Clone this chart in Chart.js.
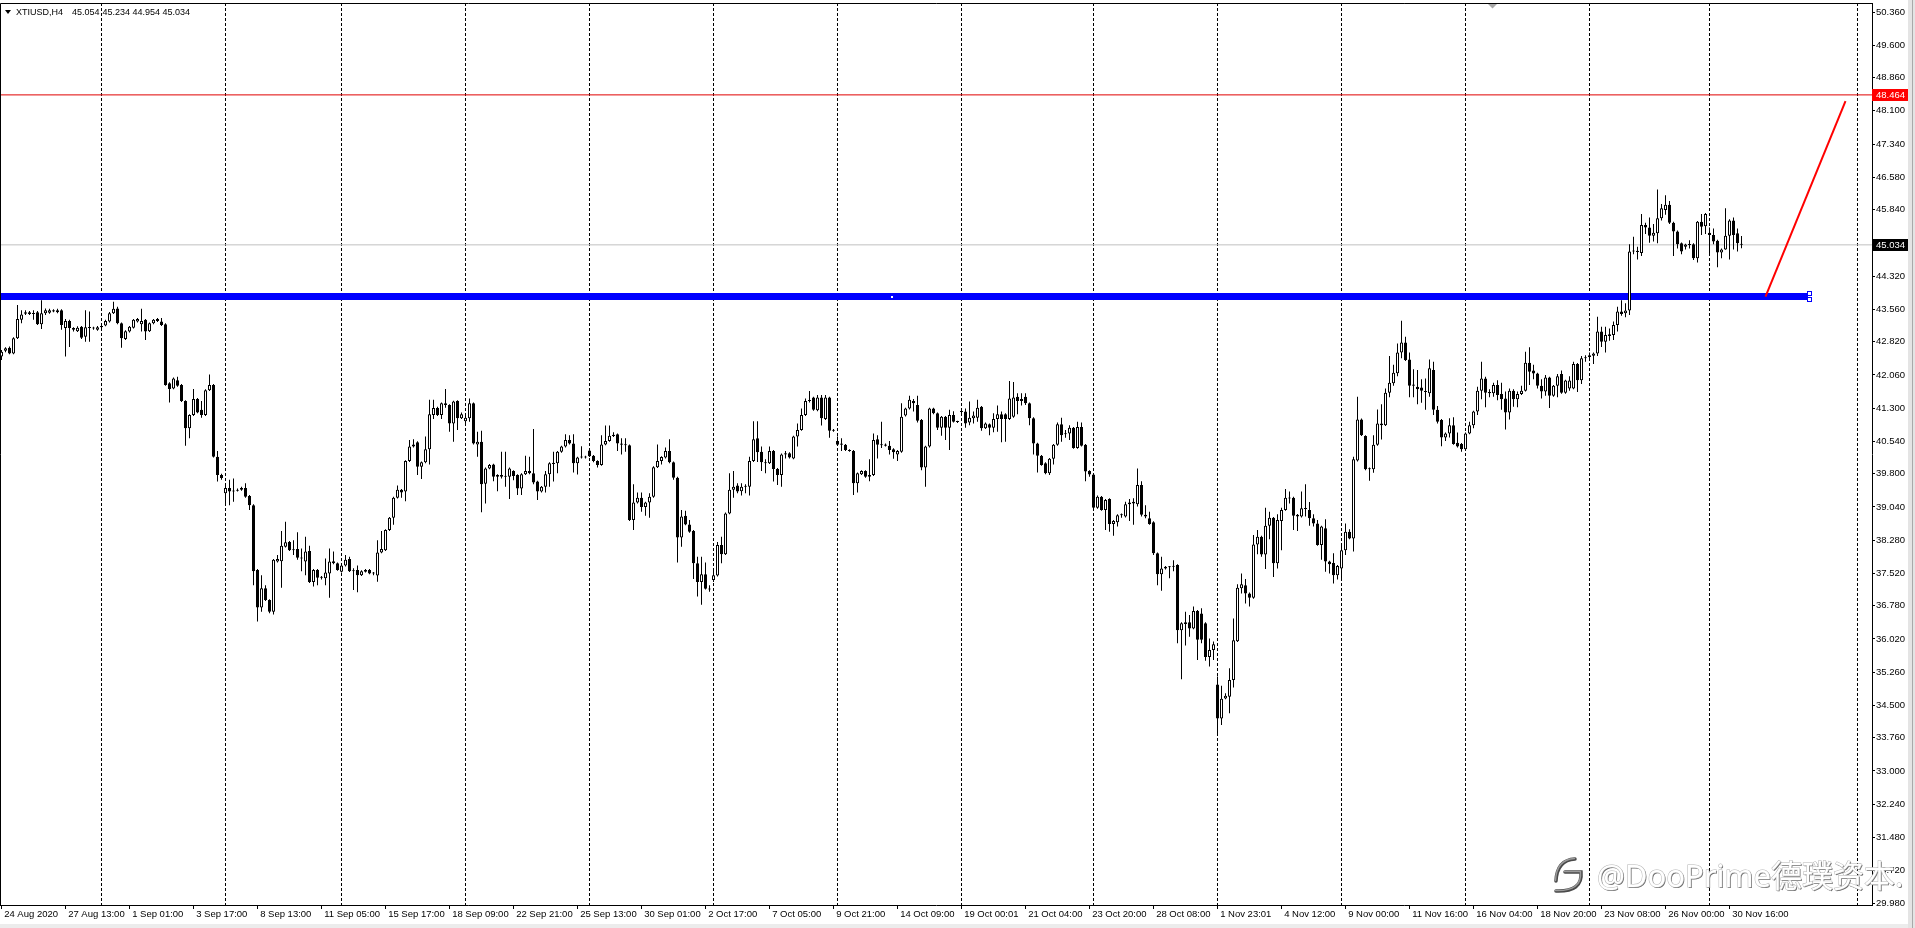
<!DOCTYPE html>
<html>
<head>
<meta charset="utf-8">
<title>XTIUSD,H4</title>
<script src="https://cdn.jsdelivr.net/npm/chart.js@4.4.1/dist/chart.umd.min.js"></script>
<style>
  html, body { margin: 0; padding: 0; background: #ffffff; overflow: hidden; }
  #wrap { position: relative; width: 1915px; height: 928px; }
</style>
</head>
<body>
<div id="wrap"><canvas id="chart"></canvas></div>
<script>
const symbolName = 'XTIUSD,H4';

const opens = [
  42.48, 42.61, 42.68, 42.55, 42.90, 43.32, 43.46, 43.49, 43.45, 43.49,
  43.22, 43.47, 43.48, 43.54, 43.49, 43.54, 43.13, 43.29, 43.13, 43.06,
  43.16, 42.93, 43.15, 43.13, 43.09, 43.15, 43.19, 43.28, 43.47, 43.58,
  43.24, 42.88, 43.05, 43.14, 43.28, 43.22, 43.32, 43.06, 43.24, 43.29,
  43.28, 43.22, 41.87, 41.75, 41.94, 41.83, 41.46, 40.84, 41.14, 41.51,
  41.26, 41.14, 41.71, 41.83, 40.19, 39.77, 39.35, 39.47, 39.39, 39.41,
  39.43, 39.47, 39.29, 39.08, 37.60, 36.74, 37.18, 36.91, 36.64, 37.79,
  37.80, 38.13, 38.24, 38.05, 38.08, 37.88, 37.79, 38.03, 37.32, 37.60,
  37.42, 37.41, 37.52, 37.75, 37.75, 37.56, 37.70, 37.85, 37.57, 37.60,
  37.48, 37.56, 37.60, 37.52, 37.47, 38.00, 38.05, 38.51, 38.79, 39.25,
  39.43, 39.39, 40.09, 40.42, 40.52, 39.96, 40.06, 40.36, 41.14, 41.30,
  41.14, 41.41, 41.37, 40.95, 41.46, 41.07, 41.00, 41.07, 41.41, 40.47,
  40.53, 39.57, 39.92, 40.01, 39.73, 39.77, 39.73, 39.73, 39.86, 39.77,
  39.46, 39.79, 39.86, 39.81, 39.62, 39.39, 39.50, 39.79, 40.02, 40.04,
  40.30, 40.42, 40.57, 40.49, 40.04, 40.17, 40.19, 40.33, 40.21, 40.09,
  40.00, 40.47, 40.55, 40.66, 40.70, 40.49, 40.46, 40.45, 38.74, 39.14,
  39.25, 39.04, 39.14, 39.27, 39.95, 40.09, 40.17, 40.32, 40.06, 39.71,
  38.34, 38.84, 38.64, 38.49, 37.75, 37.32, 37.50, 37.17, 37.37, 37.47,
  38.17, 37.96, 38.89, 39.43, 39.53, 39.40, 39.50, 39.50, 40.09, 40.61,
  40.30, 40.06, 40.04, 40.32, 39.91, 39.77, 40.24, 40.27, 40.15, 40.65,
  40.80, 41.14, 41.46, 41.54, 41.25, 41.54, 41.05, 41.54, 40.78, 40.55,
  40.46, 40.46, 40.34, 40.32, 39.58, 39.79, 39.86, 39.73, 39.77, 40.59,
  40.45, 40.47, 40.44, 40.36, 40.24, 40.30, 41.13, 41.29, 41.46, 41.37,
  41.03, 39.94, 40.42, 41.29, 41.18, 40.85, 41.10, 40.85, 41.14, 40.99,
  41.21, 41.22, 40.97, 41.07, 41.08, 41.33, 40.84, 40.93, 40.85, 41.05,
  41.16, 41.16, 41.05, 41.10, 41.56, 41.46, 41.56, 41.41, 41.07, 40.49,
  40.21, 40.04, 39.81, 40.14, 40.46, 40.93, 40.70, 40.72, 40.85, 40.39,
  40.87, 40.46, 39.86, 39.78, 39.02, 39.27, 38.97, 39.22, 38.65, 38.69,
  38.85, 38.82, 39.10, 39.12, 39.10, 39.54, 38.86, 38.78, 38.69, 37.98,
  37.50, 37.63, 37.67, 37.67, 37.71, 36.22, 36.36, 36.40, 36.26, 36.66,
  36.60, 36.38, 35.61, 35.77, 34.98, 34.20, 34.66, 34.70, 35.08, 35.97,
  37.18, 37.25, 37.06, 36.96, 38.18, 38.36, 37.95, 38.61, 38.79, 37.75,
  38.72, 38.97, 39.25, 39.25, 38.82, 38.82, 39.01, 38.97, 38.78, 38.66,
  38.17, 38.55, 37.79, 37.76, 37.48, 37.63, 38.05, 38.47, 38.32, 40.10,
  41.04, 40.66, 39.90, 39.90, 40.46, 40.95, 40.91, 41.65, 41.87, 42.10,
  42.57, 42.80, 42.41, 41.81, 41.79, 41.77, 41.68, 41.64, 42.17, 41.26,
  41.03, 40.63, 40.72, 40.91, 40.51, 40.48, 40.36, 40.72, 40.91, 41.22,
  41.70, 41.98, 41.67, 41.64, 41.83, 41.62, 41.52, 41.20, 41.70, 41.50,
  41.62, 41.70, 42.34, 42.16, 42.09, 41.81, 41.68, 42.00, 41.58, 41.81,
  42.08, 41.65, 41.75, 41.75, 42.31, 41.94, 42.44, 42.47, 42.50, 42.55,
  43.05, 42.82, 42.95, 42.97, 43.20, 43.51, 43.47, 43.53, 44.88, 44.90,
  44.85, 45.49, 45.43, 45.24, 45.30, 45.64, 45.83, 45.95, 45.54, 45.34,
  45.07, 44.99, 45.03, 45.05, 44.73, 45.56, 45.46, 45.31, 45.26, 45.13,
  44.86, 44.93, 45.24, 45.59, 45.30, 45.054
];

const highs = [
  42.63, 42.69, 42.71, 42.92, 43.66, 43.54, 43.54, 43.52, 43.54, 43.52,
  43.77, 43.58, 43.57, 43.56, 43.57, 43.56, 43.34, 43.32, 43.15, 43.17,
  43.18, 43.54, 43.51, 43.16, 43.18, 43.20, 43.32, 43.50, 43.73, 43.62,
  43.26, 43.08, 43.18, 43.34, 43.36, 43.57, 43.34, 43.26, 43.34, 43.36,
  43.36, 43.24, 41.89, 42.00, 42.02, 41.85, 41.48, 41.16, 41.74, 41.53,
  41.46, 41.73, 42.07, 41.85, 40.32, 39.80, 39.58, 39.66, 39.69, 39.46,
  39.50, 39.58, 39.31, 39.10, 37.62, 37.48, 37.25, 36.93, 37.85, 37.94,
  38.49, 38.70, 38.26, 38.28, 38.46, 38.09, 38.36, 38.15, 37.62, 37.62,
  37.46, 37.86, 38.09, 38.02, 37.77, 37.72, 37.94, 37.90, 37.64, 37.70,
  37.59, 37.62, 37.62, 37.55, 38.28, 38.49, 38.53, 38.81, 39.27, 39.53,
  39.45, 40.11, 40.57, 40.59, 40.54, 40.08, 40.65, 41.49, 41.49, 41.33,
  41.43, 41.74, 41.39, 41.47, 41.48, 41.20, 41.13, 41.52, 41.43, 40.76,
  40.78, 39.94, 40.02, 40.03, 39.79, 40.30, 40.30, 39.94, 39.88, 39.79,
  39.81, 40.21, 40.19, 40.82, 39.64, 39.52, 39.86, 40.06, 40.30, 40.32,
  40.44, 40.70, 40.68, 40.70, 40.19, 40.43, 40.21, 40.38, 40.23, 40.11,
  40.68, 40.90, 40.90, 40.75, 40.72, 40.61, 40.61, 40.47, 39.56, 39.37,
  39.37, 39.16, 39.35, 39.97, 40.47, 40.20, 40.40, 40.59, 40.08, 39.73,
  38.97, 38.95, 38.74, 38.51, 37.90, 37.90, 37.77, 37.25, 37.60, 38.24,
  38.36, 38.91, 39.81, 39.86, 39.58, 39.58, 39.56, 40.19, 41.00, 41.00,
  40.42, 40.13, 40.42, 40.34, 39.93, 40.26, 40.32, 40.29, 40.67, 40.95,
  41.29, 41.52, 41.69, 41.56, 41.60, 41.60, 41.60, 41.56, 40.82, 40.65,
  40.61, 40.48, 40.36, 40.34, 39.83, 39.88, 39.88, 40.13, 40.72, 40.68,
  40.99, 40.49, 40.55, 40.38, 40.34, 41.41, 41.31, 41.58, 41.51, 41.58,
  41.05, 40.44, 41.31, 41.31, 41.20, 41.12, 41.12, 41.26, 41.23, 41.01,
  41.29, 41.29, 41.45, 41.22, 41.49, 41.35, 40.97, 40.95, 41.18, 41.36,
  41.22, 41.18, 41.92, 41.90, 41.64, 41.64, 41.64, 41.43, 41.09, 40.51,
  40.23, 40.06, 40.16, 40.48, 40.97, 41.08, 40.80, 40.91, 40.87, 40.99,
  40.97, 40.48, 39.88, 39.80, 39.30, 39.29, 39.22, 39.24, 38.74, 38.87,
  38.89, 39.16, 39.22, 39.24, 39.92, 39.63, 39.08, 38.93, 38.71, 38.00,
  37.90, 37.69, 37.69, 37.82, 37.73, 36.40, 36.64, 36.57, 36.76, 36.68,
  36.72, 36.40, 36.03, 35.96, 35.16, 34.95, 34.78, 35.35, 36.49, 37.27,
  37.52, 37.39, 37.08, 38.40, 38.51, 38.38, 39.02, 38.93, 38.81, 38.87,
  39.02, 39.45, 39.39, 39.27, 38.88, 39.39, 39.56, 39.15, 38.87, 38.74,
  38.61, 38.76, 37.81, 37.98, 37.71, 38.19, 38.66, 38.53, 40.19, 41.56,
  41.06, 40.68, 39.94, 40.68, 41.27, 41.39, 41.75, 42.49, 42.29, 42.78,
  43.30, 42.93, 42.57, 42.19, 42.17, 41.96, 41.98, 42.41, 42.36, 41.35,
  41.05, 40.74, 41.07, 41.09, 40.74, 40.50, 40.74, 40.99, 41.24, 41.79,
  42.36, 42.02, 41.73, 41.88, 41.94, 41.88, 41.68, 41.75, 41.73, 41.68,
  41.81, 42.59, 42.69, 42.29, 42.11, 41.96, 42.06, 42.02, 41.83, 42.08,
  42.16, 41.95, 42.03, 42.36, 42.33, 42.49, 42.51, 42.57, 42.57, 43.39,
  43.16, 43.16, 43.12, 43.28, 43.62, 43.77, 43.70, 45.05, 45.22, 44.99,
  45.74, 45.54, 45.66, 45.51, 46.30, 45.97, 46.17, 46.04, 45.56, 45.36,
  45.09, 45.06, 45.14, 45.07, 45.58, 45.74, 45.76, 45.43, 45.41, 45.15,
  44.95, 45.87, 45.62, 45.66, 45.41, 45.234
];

const lows = [
  42.40, 42.58, 42.53, 42.53, 42.88, 43.24, 43.43, 43.43, 43.32, 43.20,
  43.11, 43.43, 43.46, 43.49, 43.47, 43.09, 42.48, 42.70, 43.05, 43.04,
  42.88, 42.82, 42.82, 43.09, 43.07, 43.13, 43.17, 43.26, 43.45, 43.22,
  42.68, 42.86, 43.03, 43.12, 43.26, 43.05, 42.86, 43.04, 43.22, 43.27,
  43.18, 41.81, 41.43, 41.73, 41.79, 41.44, 40.44, 40.61, 41.12, 41.18,
  41.08, 41.12, 41.69, 40.17, 39.62, 39.66, 39.08, 39.08, 39.16, 39.39,
  39.41, 39.25, 38.97, 37.25, 36.42, 36.64, 36.89, 36.61, 36.58, 37.77,
  37.19, 38.11, 38.03, 37.94, 37.83, 37.57, 37.48, 37.30, 37.22, 37.25,
  37.38, 37.25, 36.96, 37.73, 37.58, 37.54, 37.68, 37.55, 37.14, 37.09,
  37.46, 37.54, 37.50, 37.48, 37.33, 37.98, 38.03, 38.49, 38.63, 39.23,
  39.25, 39.17, 40.07, 40.40, 39.77, 39.68, 40.04, 40.01, 41.05, 41.12,
  41.05, 41.31, 40.76, 40.53, 40.80, 41.05, 40.95, 40.99, 40.47, 40.19,
  38.92, 39.12, 39.90, 39.63, 39.40, 39.69, 39.50, 39.22, 39.65, 39.31,
  39.31, 39.77, 39.79, 39.56, 39.20, 39.37, 39.37, 39.50, 39.62, 39.81,
  40.28, 40.40, 40.47, 39.83, 39.78, 40.15, 40.15, 40.18, 40.06, 39.94,
  39.98, 40.45, 40.53, 40.64, 40.32, 40.24, 40.30, 38.72, 38.51, 39.12,
  38.93, 38.84, 38.79, 39.25, 39.93, 40.01, 40.15, 40.04, 39.66, 37.77,
  38.13, 38.62, 38.45, 37.39, 36.99, 36.80, 37.15, 37.10, 37.32, 37.45,
  37.75, 37.94, 38.87, 39.25, 39.35, 39.30, 39.35, 39.30, 40.07, 40.07,
  39.86, 39.81, 40.02, 39.62, 39.54, 39.50, 40.15, 40.15, 40.13, 40.42,
  40.78, 41.12, 41.43, 41.24, 41.23, 40.90, 41.03, 40.62, 40.76, 40.44,
  40.32, 40.32, 40.30, 39.31, 39.37, 39.77, 39.71, 39.63, 39.75, 40.15,
  40.39, 40.42, 40.24, 40.14, 40.09, 40.28, 41.11, 41.27, 41.22, 40.97,
  39.88, 39.50, 40.40, 41.16, 40.80, 40.67, 40.57, 40.34, 40.97, 40.96,
  41.16, 40.85, 40.91, 40.95, 40.99, 40.78, 40.82, 40.68, 40.75, 40.76,
  40.52, 40.53, 41.03, 41.08, 41.16, 41.36, 41.37, 40.91, 40.24, 39.83,
  39.98, 39.79, 39.77, 40.01, 40.44, 40.53, 40.62, 40.57, 40.37, 40.37,
  40.42, 39.63, 39.73, 39.00, 39.00, 38.95, 38.51, 38.47, 38.38, 38.59,
  38.79, 38.80, 38.72, 38.63, 39.05, 38.82, 38.78, 38.63, 37.94, 37.25,
  37.12, 37.61, 37.41, 37.57, 35.92, 35.10, 35.87, 36.07, 36.24, 35.54,
  35.92, 35.52, 35.39, 35.54, 33.82, 34.05, 34.64, 34.32, 34.91, 35.95,
  37.06, 36.83, 36.76, 36.94, 37.96, 37.90, 37.62, 38.30, 37.44, 37.63,
  38.05, 38.95, 39.12, 38.51, 38.49, 38.80, 38.82, 38.61, 38.59, 38.15,
  37.83, 37.56, 37.52, 37.29, 37.38, 37.41, 37.94, 38.30, 38.02, 40.08,
  40.66, 39.88, 39.64, 39.82, 40.44, 40.58, 40.89, 41.55, 41.81, 42.03,
  42.44, 42.38, 41.55, 41.55, 41.39, 41.42, 41.26, 41.56, 41.14, 40.95,
  40.43, 40.55, 40.63, 40.46, 40.40, 40.30, 40.33, 40.70, 40.84, 41.14,
  41.50, 41.32, 41.55, 41.56, 41.48, 41.26, 40.81, 41.04, 41.33, 41.32,
  41.60, 41.68, 41.83, 41.96, 41.75, 41.52, 41.58, 41.30, 41.56, 41.55,
  41.63, 41.63, 41.70, 41.73, 41.67, 41.85, 42.36, 42.44, 42.31, 42.49,
  42.70, 42.57, 42.84, 42.86, 43.05, 43.41, 43.38, 43.43, 44.82, 44.70,
  44.78, 45.28, 45.08, 45.11, 45.07, 45.59, 45.72, 45.51, 44.78, 44.95,
  44.82, 44.93, 44.95, 44.69, 44.63, 45.26, 45.28, 44.85, 45.05, 44.52,
  44.73, 44.92, 44.70, 44.93, 44.88, 44.954
];

const closes = [
  42.59, 42.67, 42.55, 42.90, 43.34, 43.44, 43.49, 43.45, 43.47, 43.22,
  43.47, 43.54, 43.54, 43.51, 43.54, 43.20, 43.29, 43.13, 43.09, 43.14,
  42.91, 43.15, 43.13, 43.12, 43.15, 43.18, 43.29, 43.47, 43.57, 43.24,
  42.90, 43.06, 43.16, 43.32, 43.34, 43.29, 43.05, 43.24, 43.32, 43.34,
  43.20, 41.83, 41.74, 41.98, 41.81, 41.46, 40.84, 41.14, 41.51, 41.20,
  41.14, 41.71, 41.83, 40.19, 39.77, 39.70, 39.47, 39.39, 39.41, 39.43,
  39.47, 39.27, 39.08, 37.57, 36.74, 37.18, 36.91, 36.64, 37.83, 37.85,
  38.15, 38.23, 38.05, 38.07, 37.88, 37.86, 38.02, 37.32, 37.60, 37.42,
  37.44, 37.54, 37.79, 37.80, 37.60, 37.70, 37.83, 37.57, 37.59, 37.48,
  37.57, 37.60, 37.52, 37.53, 38.00, 38.08, 38.51, 38.79, 39.25, 39.43,
  39.37, 40.09, 40.42, 40.47, 39.96, 40.06, 40.36, 41.16, 41.30, 41.14,
  41.41, 41.37, 40.95, 41.45, 41.07, 41.16, 41.08, 41.41, 40.49, 40.53,
  39.56, 39.92, 40.00, 39.73, 39.77, 39.73, 39.75, 39.92, 39.75, 39.46,
  39.79, 39.86, 39.81, 39.60, 39.39, 39.50, 39.79, 40.04, 40.05, 40.30,
  40.42, 40.57, 40.49, 40.04, 40.17, 40.19, 40.17, 40.20, 40.09, 40.00,
  40.47, 40.55, 40.67, 40.69, 40.49, 40.46, 40.45, 38.74, 39.14, 39.25,
  39.04, 39.14, 39.27, 39.95, 40.09, 40.18, 40.32, 40.06, 39.71, 38.34,
  38.82, 38.64, 38.47, 37.75, 37.32, 37.50, 37.17, 37.15, 37.48, 38.17,
  37.96, 38.89, 39.43, 39.50, 39.39, 39.50, 39.52, 40.09, 40.59, 40.29,
  40.06, 40.04, 40.32, 39.91, 39.77, 40.24, 40.27, 40.17, 40.65, 40.80,
  41.14, 41.46, 41.48, 41.26, 41.54, 41.07, 41.54, 40.78, 40.80, 40.46,
  40.49, 40.34, 40.32, 39.58, 39.81, 39.86, 39.73, 39.77, 40.57, 40.46,
  40.47, 40.44, 40.34, 40.29, 40.32, 41.10, 41.29, 41.49, 41.41, 41.01,
  39.94, 40.42, 41.29, 41.18, 40.85, 41.10, 40.85, 41.14, 40.99, 40.98,
  41.23, 40.95, 41.08, 41.13, 41.31, 40.84, 40.95, 40.85, 41.05, 41.16,
  41.05, 41.05, 41.52, 41.54, 41.46, 41.51, 41.41, 41.07, 40.49, 40.21,
  40.00, 39.81, 40.14, 40.46, 40.93, 40.68, 40.72, 40.85, 40.39, 40.87,
  40.44, 39.85, 39.78, 39.02, 39.27, 38.97, 39.20, 38.65, 38.72, 38.85,
  38.87, 39.10, 39.14, 39.16, 39.54, 38.86, 38.82, 38.65, 37.98, 37.50,
  37.63, 37.67, 37.66, 37.69, 36.22, 36.38, 36.40, 36.26, 36.66, 36.00,
  36.00, 35.61, 35.77, 35.90, 34.20, 34.65, 34.72, 35.08, 35.99, 37.19,
  37.27, 37.06, 36.96, 38.18, 38.36, 37.95, 38.61, 38.79, 37.75, 38.74,
  38.97, 39.25, 39.23, 38.84, 38.86, 39.01, 38.99, 38.78, 38.66, 38.17,
  38.59, 37.79, 37.73, 37.48, 37.69, 38.05, 38.47, 38.32, 40.13, 41.04,
  40.68, 39.90, 39.92, 40.46, 40.95, 40.91, 41.65, 41.88, 42.11, 42.57,
  42.80, 42.40, 41.81, 41.84, 41.73, 41.70, 41.67, 42.21, 41.26, 40.99,
  40.63, 40.72, 40.91, 40.48, 40.42, 40.36, 40.72, 40.91, 41.22, 41.70,
  41.98, 41.65, 41.64, 41.83, 41.60, 41.50, 41.20, 41.70, 41.50, 41.62,
  41.70, 42.34, 42.13, 42.09, 41.81, 41.68, 42.00, 41.58, 41.81, 42.03,
  41.65, 41.93, 41.93, 42.31, 41.94, 42.44, 42.46, 42.51, 42.55, 43.05,
  42.82, 42.97, 42.99, 43.20, 43.51, 43.45, 43.53, 44.88, 44.90, 44.87,
  45.49, 45.43, 45.24, 45.31, 45.64, 45.87, 45.95, 45.54, 45.34, 45.05,
  44.88, 45.04, 45.04, 44.73, 45.56, 45.45, 45.74, 45.26, 45.11, 44.86,
  44.93, 45.24, 45.59, 45.26, 45.07, 45.034
];

// one label every 16 bars, starting at bar 0
const timeLabels = [
  '24 Aug 2020', '27 Aug 13:00', '1 Sep 01:00', '3 Sep 17:00', '8 Sep 13:00',
  '11 Sep 05:00', '15 Sep 17:00', '18 Sep 09:00', '22 Sep 21:00', '25 Sep 13:00',
  '30 Sep 01:00', '2 Oct 17:00', '7 Oct 05:00', '9 Oct 21:00', '14 Oct 09:00',
  '19 Oct 00:01', '21 Oct 04:00', '23 Oct 20:00', '28 Oct 08:00', '1 Nov 23:01',
  '4 Nov 12:00', '9 Nov 00:00', '11 Nov 16:00', '16 Nov 04:00', '18 Nov 20:00',
  '23 Nov 08:00', '26 Nov 00:00', '30 Nov 16:00'
];
const labelStep = 16;

// bars where a new week starts (dashed separators)
const weekStarts = [25, 56, 85, 116, 147, 178, 209, 240, 273, 304, 335, 366, 397, 427, 464];

const priceTicks = [
  50.36, 49.60, 48.86, 48.10, 47.34, 46.58, 45.84, 45.08, 44.32, 43.56,
  42.82, 42.06, 41.30, 40.54, 39.80, 39.04, 38.28, 37.52, 36.78, 36.02,
  35.26, 34.50, 33.76, 33.00, 32.24, 31.48, 30.72, 29.98
];

const resistanceLevel = 48.464;
const supportZone = [43.77, 43.93];
const supportZoneBars = [-7, 451.6];
const trendBars = [441, 461];
const trendPrices = [43.85, 48.32];

const xMin = -0.375;
const xMax = 467.625;
const yMin = 29.935;
const yMax = 50.566;

const fontFamily = '"Liberation Sans", Arial, sans-serif';
const lastBar = closes.length - 1;
const bidPrice = closes[lastBar];

const bodies = opens.map(function (o, i) { return {x: i, y: [o, closes[i]]}; });
const wicks = lows.map(function (l, i) { return {x: i, y: [l, highs[i]]}; });

const xTickValues = Array.from(new Set(
  timeLabels.map(function (_, k) { return k * labelStep; }).concat(weekStarts)
)).sort(function (a, b) { return a - b; });

function priceBox(ctx, area, yScale, value, bg) {
  const py = Math.round(yScale.getPixelForValue(value));
  ctx.fillStyle = bg;
  ctx.fillRect(area.right, py - 6, 36, 12);
  ctx.fillStyle = '#ffffff';
  ctx.font = '9.5px ' + fontFamily;
  ctx.textBaseline = 'middle';
  ctx.textAlign = 'left';
  ctx.fillText(value.toFixed(3), area.right + 4, py + 0.5);
}

function drawLogo(ctx, color, dx, dy) {
  ctx.strokeStyle = color;
  ctx.beginPath();
  ctx.moveTo(1575 + dx, 859 + dy);
  ctx.quadraticCurveTo(1557 + dx, 860 + dy, 1556 + dx, 881 + dy);
  ctx.stroke();
  ctx.beginPath();
  ctx.moveTo(1565 + dx, 872 + dy);
  ctx.lineTo(1581 + dx, 872 + dy);
  ctx.quadraticCurveTo(1583 + dx, 892 + dy, 1556 + dx, 891 + dy);
  ctx.stroke();
}

const overlay = {
  id: 'overlay',
  beforeDatasetsDraw(chart) {
    const {ctx, chartArea, scales: {x, y}} = chart;
    ctx.save();
    ctx.beginPath();
    ctx.rect(chartArea.left, chartArea.top, chartArea.width, chartArea.height);
    ctx.clip();
    const zl = x.getPixelForValue(supportZoneBars[0]);
    const zr = Math.round(x.getPixelForValue(supportZoneBars[1]));
    const zt = Math.round(y.getPixelForValue(supportZone[1]));
    const zb = Math.round(y.getPixelForValue(supportZone[0]));
    ctx.fillStyle = '#0000ff';
    ctx.fillRect(zl, zt, zr - zl, zb - zt);
    ctx.restore();
  },
  afterDatasetsDraw(chart) {
    const {ctx, scales: {x, y}} = chart;
    const zr = Math.round(x.getPixelForValue(supportZoneBars[1]));
    const zt = Math.round(y.getPixelForValue(supportZone[1]));
    const zb = Math.round(y.getPixelForValue(supportZone[0]));
    const mid = Math.round(x.getPixelForValue((supportZoneBars[0] + supportZoneBars[1]) / 2));
    ctx.save();
    ctx.fillStyle = '#ffffff';
    ctx.fillRect(mid, Math.round((zt + zb) / 2) - 1, 2, 2);
    ctx.strokeStyle = '#0000ff';
    ctx.lineWidth = 1;
    ctx.fillRect(zr - 1, zt - 2, 4, 4);
    ctx.strokeRect(zr - 0.5, zt - 1.5, 4, 4);
    ctx.fillRect(zr - 1, zb - 3, 4, 4);
    ctx.strokeRect(zr - 0.5, zb - 2.5, 4, 4);
    ctx.restore();
  },
  afterDraw(chart) {
    const {ctx, chartArea, scales: {y}} = chart;
    ctx.save();
    // frame on the two sides Chart.js leaves open
    ctx.strokeStyle = '#000000';
    ctx.lineWidth = 1;
    ctx.beginPath();
    ctx.moveTo(0.5, chartArea.bottom);
    ctx.lineTo(0.5, chartArea.top + 0.5);
    ctx.lineTo(chartArea.right, chartArea.top + 0.5);
    ctx.stroke();

    priceBox(ctx, chartArea, y, resistanceLevel, '#ff0000');
    priceBox(ctx, chartArea, y, bidPrice, '#000000');

    // chart shift marker
    ctx.fillStyle = '#a8a8a8';
    ctx.beginPath();
    ctx.moveTo(1488, 4);
    ctx.lineTo(1497, 4);
    ctx.lineTo(1492.5, 8.5);
    ctx.closePath();
    ctx.fill();

    // header
    ctx.fillStyle = '#000000';
    ctx.beginPath();
    ctx.moveTo(5, 10);
    ctx.lineTo(11, 10);
    ctx.lineTo(8, 14);
    ctx.closePath();
    ctx.fill();
    ctx.font = '9px ' + fontFamily;
    ctx.textBaseline = 'middle';
    ctx.textAlign = 'left';
    ctx.fillText(symbolName, 16, 12.5);
    ctx.fillText(opens[lastBar].toFixed(3), 72, 12.5);
    const rest = [highs[lastBar], lows[lastBar], closes[lastBar]]
      .map(function (v) { return v.toFixed(3); }).join(' ');
    ctx.fillText(rest, 102.5, 12.5);

    // watermark
    ctx.font = '31px "Noto Sans", "Noto Sans CJK SC", sans-serif';
    ctx.textBaseline = 'alphabetic';
    const wmText = '@DooPrime德璞资本.';
    ctx.fillStyle = '#6a6a6a';
    ctx.fillText(wmText, 1598, 888);
    ctx.lineWidth = 1;
    ctx.strokeStyle = '#b4b4b4';
    ctx.strokeText(wmText, 1597, 887);
    ctx.fillStyle = '#ffffff';
    ctx.fillText(wmText, 1597, 887);

    ctx.lineCap = 'round';
    ctx.lineWidth = 3.5;
    drawLogo(ctx, '#4a4a4a', 0, 0);
    ctx.lineWidth = 1.5;
    drawLogo(ctx, '#9a9a9a', -0.5, -0.5);

    // window edges
    ctx.fillStyle = '#e4e4e4';
    ctx.fillRect(1908, 0, 7, 928);
    ctx.fillStyle = '#a9a9a9';
    ctx.fillRect(1912, 0, 1, 928);
    ctx.fillStyle = '#ececec';
    ctx.fillRect(0, 924, 1908, 4);
    ctx.restore();
  }
};

Chart.defaults.font.family = fontFamily;
Chart.defaults.color = '#000000';

new Chart(document.getElementById('chart'), {
  type: 'bar',
  data: {
    datasets: [
      {
        type: 'line',
        label: 'trend',
        data: [{x: trendBars[0], y: trendPrices[0]}, {x: trendBars[1], y: trendPrices[1]}],
        borderColor: '#ff0000',
        borderWidth: 2,
        pointRadius: 0,
        order: 0
      },
      {
        label: 'body',
        data: bodies,
        backgroundColor: closes.map(function (c, i) { return c >= opens[i] ? '#ffffff' : '#000000'; }),
        borderColor: '#000000',
        borderWidth: 1,
        borderSkipped: false,
        barThickness: 3,
        minBarLength: 1,
        inflateAmount: 0,
        grouped: false,
        order: 1
      },
      {
        label: 'wick',
        data: wicks,
        backgroundColor: '#000000',
        borderWidth: 0,
        barThickness: 1,
        minBarLength: 1,
        inflateAmount: 0,
        grouped: false,
        order: 2
      },
      {
        type: 'line',
        label: 'resistance',
        data: [{x: xMin, y: resistanceLevel}, {x: xMax, y: resistanceLevel}],
        borderColor: '#e00000',
        borderWidth: 1,
        pointRadius: 0,
        order: 3
      },
      {
        type: 'line',
        label: 'bid',
        data: [{x: xMin, y: bidPrice}, {x: xMax, y: bidPrice}],
        borderColor: '#c0c0c0',
        borderWidth: 1,
        pointRadius: 0,
        order: 4
      }
    ]
  },
  options: {
    responsive: true,
    maintainAspectRatio: false,
    animation: false,
    events: [],
    layout: { padding: { top: 3, left: 0, right: 0, bottom: 0 } },
    plugins: {
      legend: { display: false },
      tooltip: { enabled: false }
    },
    scales: {
      x: {
        type: 'linear',
        position: 'bottom',
        min: xMin,
        max: xMax,
        offset: false,
        afterBuildTicks: function (scale) {
          scale.ticks = xTickValues.map(function (v) { return {value: v}; });
        },
        afterFit: function (scale) {
          scale.height = 23;
          scale.paddingLeft = 0;
          scale.paddingRight = 0;
        },
        grid: {
          offset: false,
          drawOnChartArea: true,
          drawTicks: true,
          tickLength: 4,
          lineWidth: 1,
          color: function (ctx) {
            return ctx.tick && weekStarts.includes(ctx.tick.value) ? '#000000' : 'rgba(0,0,0,0)';
          },
          tickColor: function (ctx) {
            const v = ctx.tick ? ctx.tick.value : -1;
            return v % labelStep === 0 && v / labelStep < timeLabels.length ? '#000000' : 'rgba(0,0,0,0)';
          }
        },
        border: { display: true, color: '#000000', width: 1, dash: [3, 2] },
        ticks: {
          autoSkip: false,
          maxRotation: 0,
          minRotation: 0,
          align: 'start',
          padding: 0,
          font: { size: 9.5 },
          color: '#000000',
          callback: function (value) {
            const k = value / labelStep;
            return Number.isInteger(k) && k < timeLabels.length ? ' ' + timeLabels[k] : '';
          }
        }
      },
      y: {
        type: 'linear',
        position: 'right',
        min: yMin,
        max: yMax,
        afterBuildTicks: function (scale) {
          scale.ticks = priceTicks.map(function (v) { return {value: v}; });
        },
        afterFit: function (scale) {
          scale.width = 43;
          scale.paddingTop = 0;
          scale.paddingBottom = 0;
        },
        grid: {
          drawOnChartArea: false,
          drawTicks: true,
          tickLength: 3,
          tickColor: '#000000'
        },
        border: { display: true, color: '#000000', width: 1 },
        ticks: {
          padding: 1,
          font: { size: 9.5 },
          color: '#000000',
          callback: function (value) { return Number(value).toFixed(3); }
        }
      }
    }
  },
  plugins: [overlay]
});
</script>
</body>
</html>
